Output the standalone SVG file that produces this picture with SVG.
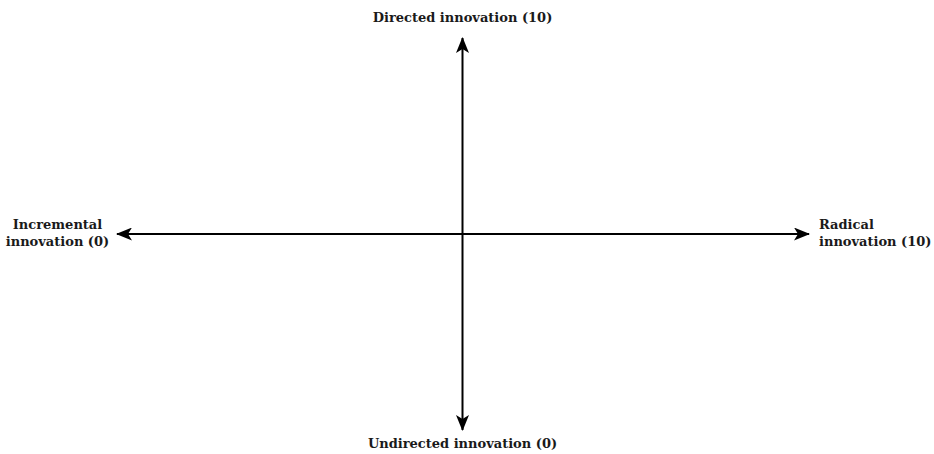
<svg xmlns="http://www.w3.org/2000/svg" width="934" height="454" viewBox="0 0 934 454">
<style>
.lbl{font-family:"DejaVu Serif","Liberation Serif",serif;font-weight:bold;font-size:13px;fill:#1a1a1a}
.ax{stroke:#000;stroke-width:2;fill:none}
</style>
<defs>
<marker id="arr" viewBox="0 0 16 13" refX="15" refY="6.5" markerWidth="16" markerHeight="13" markerUnits="userSpaceOnUse" orient="auto-start-reverse">
<path d="M0,0 L16,6.5 L0,13 L4,6.5 Z" fill="#000"/>
</marker>
</defs>
<rect width="934" height="454" fill="#fff"/>
<g id="connectors">
<line class="ax" x1="462.5" y1="38" x2="462.5" y2="430" marker-start="url(#arr)" marker-end="url(#arr)"/>
<line class="ax" x1="117" y1="234" x2="809" y2="234" marker-start="url(#arr)" marker-end="url(#arr)"/>
</g>
<g id="top"><text class="lbl" x="462.5" y="22" text-anchor="middle">Directed innovation (10)</text></g>
<g id="bottom"><text class="lbl" x="462.5" y="448" text-anchor="middle">Undirected innovation (0)</text></g>
<g id="left"><text class="lbl" text-anchor="middle"><tspan x="57.5" y="229">Incremental</tspan><tspan x="57.5" y="246">innovation (0)</tspan></text></g>
<g id="right"><text class="lbl"><tspan x="819" y="229">Radical</tspan><tspan x="819" y="246">innovation (10)</tspan></text></g>
</svg>
